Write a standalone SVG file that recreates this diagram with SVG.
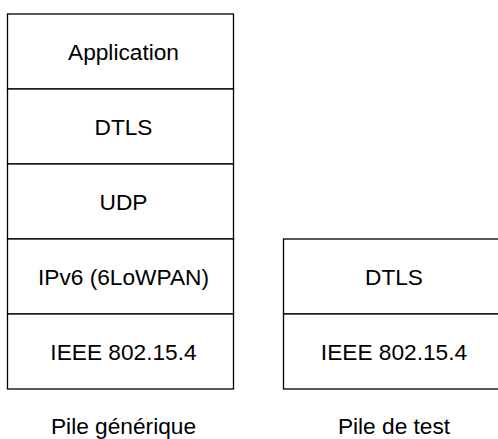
<svg xmlns="http://www.w3.org/2000/svg" width="498" height="439" viewBox="0 0 498 439">
<style>
.b{fill:#fff;stroke:#000;stroke-width:1.3}
.t{font-family:"Liberation Sans",Arial,sans-serif;font-size:22.7px;fill:#000;text-anchor:middle}
</style>
<rect width="498" height="439" fill="#fff"/>
<g id="gen-app"><rect class="b" x="7.5" y="14" width="226" height="75"/><text class="t" x="123.5" y="59.5">Application</text></g>
<g id="gen-dtls"><rect class="b" x="7.5" y="89" width="226" height="75"/><text class="t" x="123.5" y="134.5">DTLS</text></g>
<g id="gen-udp"><rect class="b" x="7.5" y="164" width="226" height="75"/><text class="t" x="123.5" y="209.5">UDP</text></g>
<g id="gen-ipv6"><rect class="b" x="7.5" y="239" width="226" height="75"/><text class="t" x="123.5" y="284.5">IPv6 (6LoWPAN)</text></g>
<g id="gen-ieee"><rect class="b" x="7.5" y="314" width="226" height="75"/><text class="t" x="123.5" y="359.5">IEEE 802.15.4</text></g>
<g id="test-dtls"><rect class="b" x="283.5" y="239" width="226" height="75"/><text class="t" x="394" y="284.5">DTLS</text></g>
<g id="test-ieee"><rect class="b" x="283.5" y="314" width="226" height="75"/><text class="t" x="394" y="359.5">IEEE 802.15.4</text></g>
<g id="labels">
<text class="t" x="123.5" y="434">Pile générique</text>
<text class="t" x="394" y="434">Pile de test</text>
</g>
<g id="connectors"/>
</svg>
